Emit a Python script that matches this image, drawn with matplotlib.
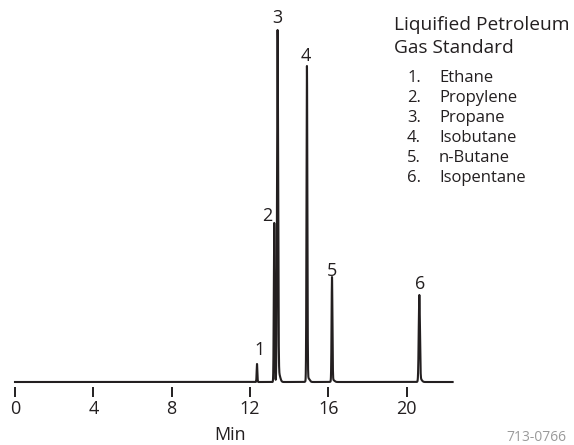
import numpy as np
import matplotlib
matplotlib.use("Agg")
import matplotlib.pyplot as plt

plt.rcParams["font.family"] = ["Open Sans", "DejaVu Sans"]

INK = "#231f20"

# peak table
peak_labels = ["1", "2", "3", "4", "5", "6"]
compounds = ["Ethane", "Propylene", "Propane", "Isobutane", "n-Butane", "Isopentane"]
retention = [12.36, 13.24, 13.41, 14.91, 16.19, 20.65]   # min
heights = [18, 159, 352, 316, 105, 87]                  # detector response
sigmas = [0.018, 0.022, 0.028, 0.022, 0.022, 0.03]      # peak width, min
skirts = [0, 0, 9, 4, 2, 3]                             # tailing at peak base
x_ticks = [0, 4, 8, 12, 16, 20]
run_end = 22.35

# label offsets (pixels) from each peak apex to the label baseline
label_dx = [3, -7, 0, -1, 0, 0.5]
label_dy = [9, 2, 7, 5, 1, 6]

t = np.linspace(0, run_end, 30000)
signal = np.zeros_like(t)
for rt, h, s, sk in zip(retention, heights, sigmas, skirts):
    shape = np.exp(-0.5 * ((t - rt) / s) ** 2)
    shape += (sk / h) * np.exp(-0.5 * ((t - rt - 0.06) / 0.07) ** 2)
    signal += h * shape / shape.max()

W, H = 574, 445
fig = plt.figure(figsize=(W / 100, H / 100), dpi=100)
fig.patch.set_facecolor("white")

# axes laid out in pixels: x=0 at 15 px, 19.58 px per minute
ax_left, ax_bottom = 15, 58
ax_w = run_end * 19.58
ax_h = 357
ax = fig.add_axes([ax_left / W, ax_bottom / H, ax_w / W, ax_h / H])
ax.set_xlim(0, run_end)
ax.set_ylim(-5, 352)

ax.plot(t, signal, color=INK, lw=1.5, clip_on=False, solid_joinstyle="round")

for lab, rt, h, dx, dy in zip(peak_labels, retention, heights, label_dx, label_dy):
    ax.annotate(lab, (rt, h), xytext=(dx, dy), textcoords="offset pixels",
                ha="center", va="baseline", fontsize=13, color=INK)

for side in ["top", "right", "left", "bottom"]:
    ax.spines[side].set_visible(False)
ax.set_yticks([])
ax.set_xticks(x_ticks)
ax.set_xticklabels([str(v) for v in x_ticks])
ax.tick_params(axis="x", direction="out", length=7.2, width=1.4, color=INK,
               labelsize=13, labelcolor=INK, pad=2)


def px(x, y):
    return x / W, 1 - y / H


fig.text(*px(230, 440), "Min", ha="center", va="baseline", fontsize=13, color=INK)
fig.text(*px(506, 441), "713-0766", ha="left", va="baseline", fontsize=10,
         color="#9a9a9a")

fig.text(*px(394, 30), "Liquified Petroleum", ha="left", va="baseline",
         fontsize=13.8, color=INK)
fig.text(*px(394, 53), "Gas Standard", ha="left", va="baseline",
         fontsize=13.8, color=INK)
for i, (lab, name) in enumerate(zip(peak_labels, compounds)):
    y = 82 + 20 * i
    fig.text(*px(421, y), lab + ".", ha="right", va="baseline", fontsize=12, color=INK)
    fig.text(*px(439, y), name, ha="left", va="baseline", fontsize=12, color=INK)

fig.savefig("out.png", dpi=100)
